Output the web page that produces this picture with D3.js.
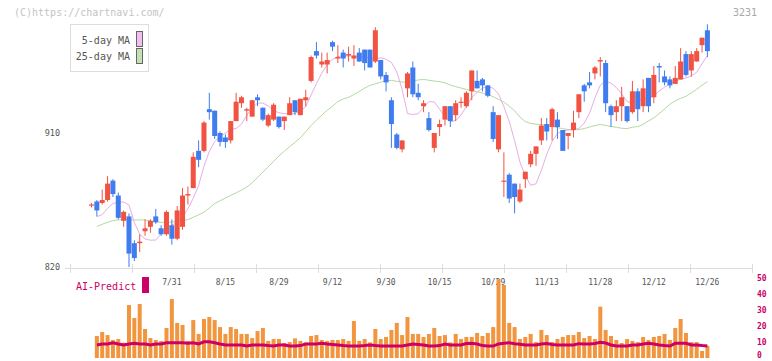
<!DOCTYPE html>
<html><head><meta charset="utf-8">
<script src="https://cdn.jsdelivr.net/npm/d3@7"></script>
<style>html,body{margin:0;padding:0;background:#fff}svg{display:block}text{font-family:"DejaVu Sans Mono","Liberation Mono",monospace}</style>
</head><body><svg id="c" width="772" height="361"></svg>
<script>
const openP = [862,864,863,865,878,868,851,854,836,836,844,847,854,846,842,848,839,847,868,873,898,898,926,925,910,907,905,918,930,925,921,934,927,915,919,921,918,922,932,922,932,945,965,956,956,971,960,964,962,960,964,966,966,958,959,949,932,909,899,940,954,937,928,920,900,914,919,928,922,931,928,938,945,946,942,924,899,878,882,876,864,879,889,896,905,916,914,919,912,908,912,924,942,944,950,958,957,928,924,928,928,924,938,928,947,934,955,948,946,943,946,963,952,958,969,979];
const highP = [863,865,872,881,879,870,858,856,838,842,852,852,859,848,858,852,861,873,874,897,905,918,937,925,911,909,918,937,935,927,932,936,927,923,930,921,921,934,932,933,939,962,971,964,964,972,969,966,968,969,967,966,966,981,959,951,934,910,905,951,958,943,932,924,910,919,928,928,932,934,938,952,952,947,942,928,922,897,883,876,876,884,898,901,920,920,927,924,912,910,925,936,943,951,955,961,959,929,932,941,928,945,940,946,947,955,957,952,948,955,967,965,965,967,974,983];
const lowP = [860,854,862,864,867,852,847,820,824,830,841,843,849,841,841,835,838,845,862,873,887,897,919,906,901,900,903,918,927,918,921,928,918,914,918,913,912,922,922,922,928,944,960,954,950,965,957,954,958,955,958,952,954,957,946,938,900,899,897,934,934,932,924,911,897,908,915,914,918,927,927,932,940,938,934,904,897,867,863,856,863,873,887,888,902,905,905,906,898,899,907,920,931,940,946,948,924,914,918,918,917,923,918,924,924,930,944,942,940,943,946,948,948,958,964,961];
const closeP = [862,858,865,876,869,853,857,829,826,837,846,851,850,842,857,839,858,868,869,894,892,917,924,908,904,904,918,931,934,926,932,932,919,922,929,914,921,930,924,933,934,961,962,958,959,968,961,960,963,962,958,957,954,979,948,944,916,900,905,950,936,934,930,912,910,916,928,918,930,931,937,952,940,942,935,906,922,878,866,867,872,884,896,901,915,911,926,914,898,910,917,936,938,942,954,959,930,922,928,934,918,938,926,940,928,949,954,944,942,947,958,949,963,965,974,965];
const ma5 = [null,853.8,855.2,859.4,862.6,863.6,863.6,861.6,849.9,842,838.8,838,838.1,842.3,846.8,848.2,849.7,853.6,859.1,866.2,874.7,887.7,897.7,904.2,907.8,909.9,912.6,913,916,921.8,926.8,930.1,930.1,928.2,925.1,923.6,923,922.8,923.1,924.8,927.6,935.5,943.1,950.2,956,959.6,961.4,961.6,961.7,961.7,961.5,961.2,960.4,959.7,960.5,959.6,957.4,951.1,939.3,923.1,922.4,923,927.1,931.1,930.9,926.1,920.7,917.7,918.3,922.1,927.8,933.9,937.3,940.2,941.1,940.1,936.2,927.7,917.8,904.8,890.5,881.2,874.9,875.9,885,895.6,904.2,909.7,911.5,912,912.3,913,916.7,923.3,933.6,942.1,944.9,943.4,940.6,936.3,931.1,930.1,932,932.9,933.2,934.8,938.2,940.8,942.9,945,946.1,946.9,948.3,950.8,956.5,962];
const ma25 = [null,847.3,848.7,850,851.1,851.7,852,851.8,851.6,851.6,851.6,851,850.4,850,849.8,850.2,850.7,851.3,851.8,853.4,855,856.8,859.6,862.6,864.5,866.3,868.1,869.8,871.6,873.7,876.6,880.1,883.7,887.3,890.9,894.6,897.8,900.8,903.7,906.8,910.9,915,918.6,922,925.2,927.9,931.2,932.8,934,935.8,937.9,940.1,942,943,944.1,945.2,945.3,944.7,944.3,943.9,944.9,945.6,946,945.4,944.9,944.5,943.7,942.2,941.1,940.2,939.3,938.4,937.7,936.9,935.7,934.4,932.6,930.7,928,925,920.7,917.7,916.4,915.9,915.6,915.4,914.5,913.6,912.9,912.3,912.1,912.3,913,914,915,915.7,915.1,914.4,913.8,913.2,912.9,913.9,914.3,915.8,918.1,920.1,923,926.1,929.3,931.6,933.3,934.6,937,939.4,942.1,944.5];
const volume = [null,13.8,16.3,14.4,11.3,11.9,9.6,33.2,25.1,33.9,18.2,12.5,11.3,10.7,18.8,37,22,20.7,10.7,23.8,15.1,24.5,25.7,23.8,19.4,15.1,19.4,18.2,15.1,15.1,12.5,16.9,18.8,10.7,11.9,11.9,9.4,10,12.3,10.7,9.8,13.8,14.4,11.3,10.7,11.3,11.3,11.9,10.7,23.2,10.7,11.9,9.8,18.2,11.9,13.2,17.6,22,14.4,25.7,15.1,15.1,13.2,15.1,18.8,13.8,14.4,9.8,15.1,11.9,13.2,13.2,15.7,13.8,15.7,19.4,49.4,45.8,22,19.4,11.9,13.2,15.1,10,17.6,14.4,10,11.9,13.2,14.4,14.4,16.3,12.5,13.8,11.9,32.2,17.6,13.8,11.3,9.4,11.9,10.7,10,13.2,11.3,13.2,13.8,15.1,11.3,18.8,24.5,15.7,10,10,4.4,7.5];
const aiPredict = [null,8.2,8.8,8.8,9.6,8.8,8.2,8.8,9.2,8.8,8.8,8.2,8.8,8.8,9.6,9.6,9.6,9.6,9.2,9.6,8.8,10.2,10.2,9.6,8.8,8.2,8.2,8.2,8.2,7.5,8.2,8.2,8.2,7.8,7.5,8.2,8.2,7.5,7.5,7.8,8.8,8.8,8.8,9.2,8.8,8.5,8.2,7.8,7.5,7.5,7.5,7.8,8.2,7.8,7.5,7.5,7.5,7.5,7.5,8.2,8.8,8.5,8.2,7.5,7.5,7.8,8.8,8.2,8.2,8.2,9.1,9.2,8.8,7.8,7.5,7.5,8.8,9.2,9.6,9.0,8.6,8.2,8.2,8.2,8.8,9.1,8.5,8.2,8.2,8.2,8.2,9.0,8.8,8.8,9.1,9.8,9.4,8.2,7.5,7.5,7.5,8.2,8.2,8.8,9.2,8.8,8.2,7.8,7.5,9.2,9.2,9.2,8.2,8.2,7.8,7.5];
const xTickLabels = ["7/31","8/15","8/29","9/12","9/30","10/15","10/29","11/13","11/28","12/12","12/26"];
const xTickIndex = [15,25,35,45,55,65,75,85,95,105,115];
const priceTicks = [820,910];
const volTicks = [0,10,20,30,40,50];

const svg = d3.select("#c");
const n = closeP.length;
const x = d3.scaleLinear().domain([0, n-1]).range([91.5, 707.4]);
const y = d3.scaleLinear().domain([820, 910]).range([267, 133]);
const yv = d3.scaleLinear().domain([0, 50]).range([358, 278.3]);
const grid = d3.scaleLinear().domain([0, 11]).range([70, 752]);
const UP = "#f25241", DOWN = "#3f7cef";

svg.append("rect").attr("width",772).attr("height",361).attr("fill","#fff");

// header texts
svg.append("text").attr("x",14).attr("y",12).attr("dominant-baseline","central")
  .attr("font-size",10).attr("fill","#c4c4c4").text("(C)https://chartnavi.com/");
svg.append("text").attr("x",757).attr("y",12).attr("dominant-baseline","central").attr("text-anchor","end")
  .attr("font-size",10).attr("fill","#a8a8a8").text("3231");

// x axis line & ticks
svg.append("line").attr("x1",65).attr("x2",753).attr("y1",268.5).attr("y2",268.5).attr("stroke","#dcdcdc");
svg.selectAll(".gt").data(d3.range(12)).enter().append("line")
  .attr("x1",d=>Math.round(grid(d))+0.5).attr("x2",d=>Math.round(grid(d))+0.5)
  .attr("y1",264).attr("y2",273).attr("stroke","#dcdcdc");

// y labels
svg.selectAll(".yl").data(priceTicks).enter().append("text")
  .attr("x",60).attr("y",d=>y(d)).attr("text-anchor","end").attr("dominant-baseline","central")
  .attr("font-size",8.5).attr("fill","#555").text(d=>d);

// x labels
svg.selectAll(".xl").data(xTickIndex).enter().append("text")
  .attr("x",d=>x(d)).attr("y",282.5).attr("text-anchor","middle").attr("dominant-baseline","central")
  .attr("font-size",8).attr("fill","#555").text((d,i)=>xTickLabels[i]);

// volume
const idx = d3.range(n);
svg.selectAll(".vb").data(idx.filter(i=>volume[i]!=null)).enter().append("rect")
  .attr("x",i=>x(i)-2).attr("width",4)
  .attr("y",i=>yv(volume[i])).attr("height",i=>yv(0)-yv(volume[i]))
  .attr("fill","#f1963f");
const aiLine = d3.line().defined(i=>aiPredict[i]!=null).x(i=>x(i)).y(i=>yv(aiPredict[i]));
svg.append("path").attr("d",aiLine(idx)).attr("fill","none").attr("stroke","#cc0066").attr("stroke-width",3);
svg.selectAll(".vl").data(volTicks).enter().append("text")
  .attr("x",757).attr("y",d=>Math.min(yv(d), 355.5)).attr("dominant-baseline","central")
  .attr("font-size",8).attr("font-weight","bold").attr("fill","#cc0066").text(d=>d);
svg.append("text").attr("x",76).attr("y",286).attr("dominant-baseline","central")
  .attr("font-size",10).attr("fill","#cc0066").text("AI-Predict");
svg.append("rect").attr("x",142).attr("y",277).attr("width",7).attr("height",16).attr("fill","#cc0066");

// moving averages
const maLine = arr => d3.line().defined(i=>arr[i]!=null).x(i=>x(i)).y(i=>y(arr[i]))(idx);
svg.append("path").attr("d",maLine(ma25)).attr("fill","none").attr("stroke","#b2da a2".replace(" ","")).attr("stroke-width",1);
svg.append("path").attr("d",maLine(ma5)).attr("fill","none").attr("stroke","#e6aee6").attr("stroke-width",1);

// candles
const cg = svg.append("g");
const col = i => closeP[i] >= openP[i] ? UP : DOWN;
cg.selectAll(".wk").data(idx).enter().append("line")
  .attr("x1",i=>x(i)).attr("x2",i=>x(i))
  .attr("y1",i=>y(highP[i])).attr("y2",i=>y(lowP[i]))
  .attr("stroke",col).attr("stroke-width",1);
cg.selectAll(".bd").data(idx).enter().append("rect")
  .attr("x",i=>x(i)-2.5).attr("width",5)
  .attr("y",i=>y(Math.max(openP[i],closeP[i])))
  .attr("height",i=>Math.max(1.2, Math.abs(y(openP[i])-y(closeP[i]))))
  .attr("fill",col);

// legend
svg.append("rect").attr("x",70.5).attr("y",24.5).attr("width",78).attr("height",47)
  .attr("fill","#fff").attr("stroke","#dddddd");
const leg = [["5-day MA","#f0bef0"],["25-day MA","#c2e2b2"]];
leg.forEach((l,k)=>{
  svg.append("text").attr("x",130).attr("y",40.5+k*16).attr("text-anchor","end").attr("dominant-baseline","central")
    .attr("font-size",10).attr("fill","#555").text(l[0]);
  svg.append("rect").attr("x",136.5).attr("y",31.5+k*17).attr("width",6).attr("height",15)
    .attr("fill",l[1]).attr("stroke","#666");
});
</script></body></html>
